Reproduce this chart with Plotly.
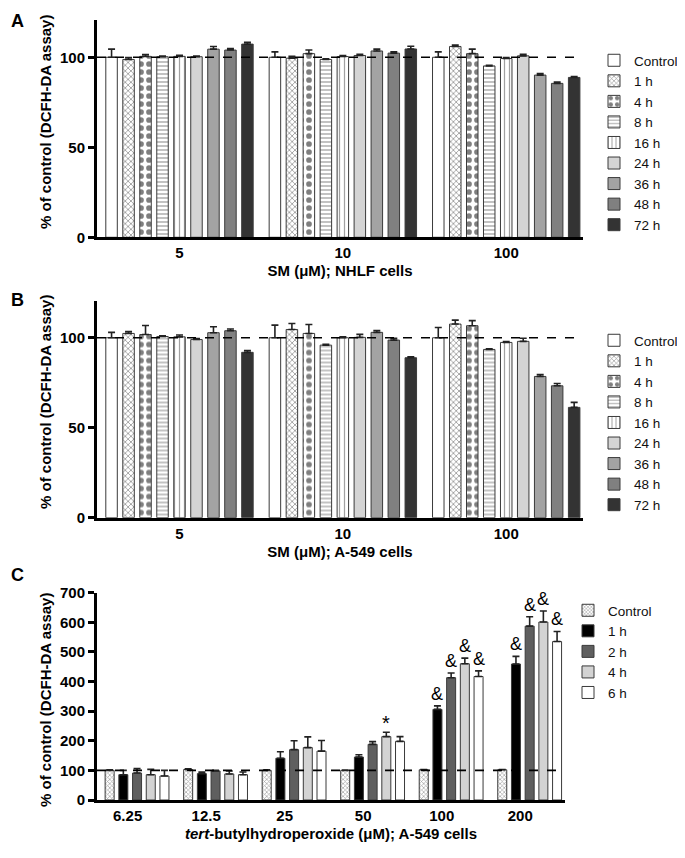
import plotly.graph_objects as go

FONT = "Liberation Sans, Arial, sans-serif"

# ---------------- data ----------------
cats_ab = ["5", "10", "100"]
series_ab = ["Control", "1 h", "4 h", "8 h", "16 h", "24 h", "36 h", "48 h", "72 h"]

# Panel A: SM, NHLF cells  (rows = series, cols = 5, 10, 100 uM)
nhlf_mean = [
    [100.0, 100.0, 100.0],
    [98.8, 99.5, 106.0],
    [100.5, 102.0, 102.0],
    [100.3, 98.8, 95.2],
    [100.5, 100.4, 99.3],
    [100.3, 101.0, 100.8],
    [104.5, 103.5, 90.1],
    [104.0, 102.3, 85.5],
    [107.3, 104.6, 88.8],
]
nhlf_err = [
    [4.5, 3.0, 3.0],
    [1.0, 1.0, 0.8],
    [1.0, 2.0, 2.5],
    [0.4, 0.4, 0.3],
    [0.6, 0.5, 0.5],
    [0.4, 0.6, 0.8],
    [1.5, 1.0, 0.8],
    [0.8, 0.8, 0.8],
    [1.0, 1.5, 0.5],
]

# Panel B: SM, A-549 cells
a549_mean = [
    [100.0, 100.0, 100.0],
    [102.4, 104.6, 107.6],
    [101.8, 102.4, 106.7],
    [100.7, 95.9, 93.5],
    [100.5, 100.0, 97.4],
    [99.0, 100.2, 98.0],
    [102.8, 103.0, 78.5],
    [103.9, 98.7, 73.3],
    [91.9, 88.9, 61.3],
]
a549_err = [
    [3.0, 7.0, 5.7],
    [1.0, 3.3, 2.2],
    [5.0, 5.0, 2.8],
    [0.4, 0.4, 0.4],
    [1.0, 0.5, 0.5],
    [0.5, 1.7, 1.7],
    [3.3, 1.0, 1.0],
    [1.0, 1.0, 1.3],
    [1.0, 0.5, 2.8],
]

# Panel C: tert-butylhydroperoxide, A-549 cells
cats_c = ["6.25", "12.5", "25", "50", "100", "200"]
series_c = ["Control", "1 h", "2 h", "4 h", "6 h"]
tbhp_mean = [
    [100, 103, 100, 100, 102, 102],
    [85.5, 89, 141, 145, 306, 459],
    [91, 98, 170, 188, 413, 587],
    [85.5, 88, 177, 214, 460, 601],
    [81, 85.5, 165, 198, 417, 535],
]
tbhp_err = [
    [2, 2, 2, 1, 1, 1],
    [14.5, 5, 22, 8, 12, 26],
    [15, 2, 30, 9, 16, 32],
    [18, 10, 36, 15, 19, 37],
    [19, 9, 36, 16, 19, 34],
]
# significance marks: (category index, series index, symbol)
tbhp_marks = [
    (3, 3, "*"),
    (4, 1, "&"), (4, 2, "&"), (4, 3, "&"), (4, 4, "&"),
    (5, 1, "&"), (5, 2, "&"), (5, 3, "&"), (5, 4, "&"),
]

# ---------------- styles ----------------
style_ab = [
    dict(color="white"),
    dict(color="white", pattern=dict(shape="x", fgcolor="#222", bgcolor="white", size=4, solidity=0.35)),
    dict(color="white", pattern=dict(shape=".", fgcolor="black", bgcolor="white", size=8, solidity=0.4)),
    dict(color="white", pattern=dict(shape="-", fgcolor="#333", bgcolor="white", size=4, solidity=0.3)),
    dict(color="white", pattern=dict(shape="|", fgcolor="#444", bgcolor="white", size=5, solidity=0.25)),
    dict(color="#d4d4d4"),
    dict(color="#a3a3a3"),
    dict(color="#808080"),
    dict(color="#333333"),
]
style_c = [
    dict(color="white", pattern=dict(shape="x", fgcolor="#444", bgcolor="white", size=3, solidity=0.4)),
    dict(color="black"),
    dict(color="#5f5f5f"),
    dict(color="#d3d3d3"),
    dict(color="white"),
]

# page has an 8px body margin, so the figure is drawn 8px in from the window edge
PAGE_OFF = 8
W, H = 685 - PAGE_OFF, 858 - PAGE_OFF
def px_x(p): return (p - PAGE_OFF) / W
def px_y(p): return 1 - (p - PAGE_OFF) / H

fig = go.Figure()

def add_panel(means, errs, names, styles, xa, ya, legend, slot, width):
    n = len(names)
    for k, (nm, mv, ev, st) in enumerate(zip(names, means, errs, styles)):
        off = (k - n / 2) * slot + (slot - width) / 2
        fig.add_trace(go.Bar(
            x=list(range(len(mv))), y=mv, name=nm,
            width=width, offset=off,
            marker=dict(line=dict(color="#3a3a3a", width=1), **st),
            error_y=dict(type="data", array=ev, arrayminus=[0] * len(ev), symmetric=False,
                         color="#222", thickness=1.6, width=3.5),
            xaxis=xa, yaxis=ya, legend=legend,
        ))

slot_ab, w_ab = 17 / 163.5, 11.5 / 163.5
slot_c, w_c = 13.7 / 78.5, 9 / 78.5

add_panel(nhlf_mean, nhlf_err, series_ab, style_ab, "x", "y", "legend", slot_ab, w_ab)
add_panel(a549_mean, a549_err, series_ab, style_ab, "x2", "y2", "legend2", slot_ab, w_ab)
add_panel(tbhp_mean, tbhp_err, series_c, style_c, "x3", "y3", "legend3", slot_c, w_c)

# significance annotations
n_c = len(series_c)
for ci, si, sym in tbhp_marks:
    xpos = ci + (si - (n_c - 1) / 2) * slot_c
    top = tbhp_mean[si][ci] + tbhp_err[si][ci]
    fig.add_annotation(x=xpos, y=top, xref="x3", yref="y3", text=sym, showarrow=False,
                       yanchor="bottom", yshift=(0 if sym == "&" else -4),
                       font=dict(family=FONT, size=(18 if sym == "&" else 20), color="black"))

# dashed 100% lines
for xr, yr in [("x domain", "y"), ("x2 domain", "y2"), ("x3 domain", "y3")]:
    fig.add_shape(type="line", xref=xr, yref=yr, x0=0, x1=1, y0=100, y1=100,
                  line=dict(color="black", width=1.6, dash="dash"), layer="above")

axis_common = dict(showline=True, linecolor="black", linewidth=3, showgrid=False, zeroline=False,
                   automargin=False, tickfont=dict(family=FONT, size=15, color="black"))
ytick_common = dict(ticks="outside", ticklen=6, tickwidth=2.5, tickcolor="black")
xtfont = dict(family=FONT, size=15, color="black")

dom_ab_x = [px_x(97), px_x(583)]
dom_c_x = [px_x(97), px_x(565)]
leg_font = dict(family=FONT, size=13.5, color="#111")

fig.update_layout(
    width=W, height=H, margin=dict(l=0, r=0, t=0, b=0, autoexpand=False),
    paper_bgcolor="white", plot_bgcolor="white",
    barmode="overlay", font=dict(family=FONT, color="black"),
    xaxis=dict(domain=dom_ab_x, anchor="y", range=[-0.505, 2.47], tickvals=[0, 1, 2],
               ticktext=[f"<b>{c}</b>" for c in cats_ab], ticks="",
               title=dict(text="<b>SM (μM); NHLF cells</b>", font=xtfont, standoff=6), **axis_common),
    yaxis=dict(domain=[px_y(237.3), px_y(20)], anchor="x", range=[0, 120.7], tickvals=[0, 50, 100],
               ticktext=["<b>0</b>", "<b>50</b>", "<b>100</b>"], **ytick_common, **axis_common),
    xaxis2=dict(domain=dom_ab_x, anchor="y2", range=[-0.505, 2.47], tickvals=[0, 1, 2],
                ticktext=[f"<b>{c}</b>" for c in cats_ab], ticks="",
                title=dict(text="<b>SM (μM); A-549 cells</b>", font=xtfont, standoff=6), **axis_common),
    yaxis2=dict(domain=[px_y(517.7), px_y(300.5)], anchor="x2", range=[0, 120.7], tickvals=[0, 50, 100],
                ticktext=["<b>0</b>", "<b>50</b>", "<b>100</b>"], **ytick_common, **axis_common),
    xaxis3=dict(domain=dom_c_x, anchor="y3", range=[-0.51, 5.45],
                tickvals=[i - 0.12 for i in range(len(cats_c))],
                ticktext=[f"<b>{c}</b>" for c in cats_c], ticks="",
                title=dict(text="<b><i>tert</i>-butylhydroperoxide (μM); A-549 cells</b>", font=xtfont, standoff=6),
                **axis_common),
    yaxis3=dict(domain=[px_y(800), px_y(592.7)], anchor="x3", range=[0, 700],
                tickvals=list(range(0, 701, 100)),
                ticktext=[f"<b>{v}</b>" for v in range(0, 701, 100)], **ytick_common, **axis_common),
    legend=dict(x=px_x(594), y=px_y(45), xanchor="left", yanchor="top", traceorder="normal",
                font=leg_font, bgcolor="rgba(0,0,0,0)"),
    legend2=dict(x=px_x(594), y=px_y(325), xanchor="left", yanchor="top", traceorder="normal",
                 font=leg_font, bgcolor="rgba(0,0,0,0)"),
    legend3=dict(x=px_x(568), y=px_y(595), xanchor="left", yanchor="top", traceorder="normal",
                 font=leg_font, bgcolor="rgba(0,0,0,0)"),
)

# y-axis titles
ytitle = "<b>% of control (DCFH-DA assay)</b>"
for ycen in [122, 402, 700]:
    fig.add_annotation(x=px_x(45), y=px_y(ycen), xref="paper", yref="paper", text=ytitle,
                       textangle=-90, showarrow=False, xanchor="center", yanchor="middle",
                       font=dict(family=FONT, size=15, color="black"))

# panel letters
for letter, ypx in [("A", 9), ("B", 288), ("C", 563)]:
    fig.add_annotation(x=px_x(9), y=px_y(ypx), xref="paper", yref="paper", text=f"<b>{letter}</b>",
                       showarrow=False, xanchor="left", yanchor="top",
                       font=dict(family=FONT, size=18, color="black"))

fig.write_html("out.html")
